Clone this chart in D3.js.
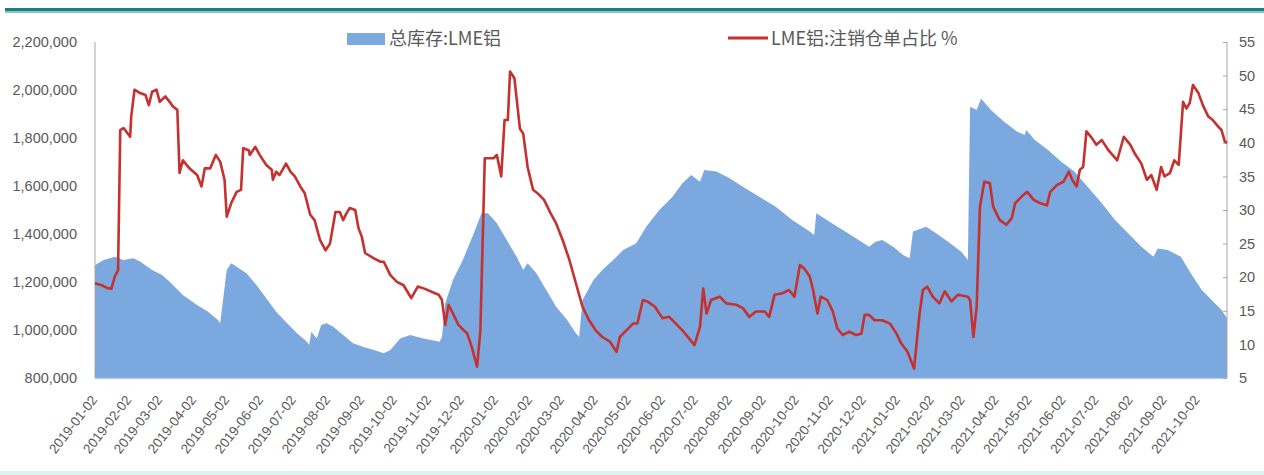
<!DOCTYPE html>
<html>
<head>
<meta charset="utf-8">
<script src="https://cdn.jsdelivr.net/npm/d3@7"></script>
<style>
  html, body { margin: 0; padding: 0; background: #ffffff; }
  svg { display: block; }
</style>
</head>
<body>
<svg id="chart" width="1264" height="475"></svg>
<script>
// LME aluminium: total stocks (tonnes, left axis) and cancelled-warrant share (%, right axis)
const stockDates = [
  "2019-01-02","2019-01-10","2019-01-20","2019-01-28","2019-02-06","2019-02-12","2019-02-23","2019-03-04",
  "2019-03-11","2019-03-23","2019-04-05","2019-04-15","2019-04-24","2019-04-26","2019-05-02","2019-05-06",
  "2019-05-11","2019-05-20","2019-05-29","2019-06-07","2019-06-16","2019-06-26","2019-07-05","2019-07-14",
  "2019-07-16","2019-07-18","2019-07-23","2019-07-27","2019-08-01","2019-08-07","2019-08-16","2019-08-25",
  "2019-09-03","2019-09-13","2019-09-22","2019-09-28","2019-10-07","2019-10-16","2019-10-28","2019-11-12",
  "2019-11-14","2019-11-17","2019-11-24","2019-12-03","2019-12-13","2019-12-20","2019-12-26","2020-01-03",
  "2020-01-12","2020-01-21","2020-01-27","2020-01-31","2020-02-08","2020-02-17","2020-02-26","2020-03-07",
  "2020-03-15","2020-03-18","2020-03-21","2020-03-31","2020-04-08","2020-04-18","2020-04-27","2020-05-09",
  "2020-05-18","2020-05-30","2020-06-11","2020-06-20","2020-06-28","2020-07-06","2020-07-10","2020-07-21",
  "2020-08-02","2020-08-14","2020-08-29","2020-09-13","2020-09-28","2020-10-14","2020-10-18","2020-10-20",
  "2020-11-01","2020-11-13","2020-11-25","2020-12-07","2020-12-13","2020-12-19","2020-12-29","2021-01-07",
  "2021-01-13","2021-01-16","2021-01-28","2021-02-06","2021-02-17","2021-03-01","2021-03-07","2021-03-09",
  "2021-03-15","2021-03-19","2021-03-28","2021-04-09","2021-04-21","2021-04-28","2021-04-29","2021-05-07",
  "2021-05-19","2021-05-31","2021-06-12","2021-06-24","2021-07-07","2021-07-19","2021-07-31","2021-08-12",
  "2021-08-23","2021-08-27","2021-09-05","2021-09-17","2021-09-26","2021-10-06","2021-10-15","2021-10-24",
  "2021-10-29"
];
const stockValues = [
  1271000,1292000,1305000,1292000,1299000,1285000,1250000,1229000,
  1201000,1146000,1104000,1076000,1042000,1028000,1250000,1278000,
  1264000,1236000,1188000,1132000,1076000,1028000,986000,951000,
  938000,993000,965000,1021000,1028000,1014000,979000,945000,
  930000,917000,903000,917000,965000,979000,965000,951000,
  972000,1111000,1208000,1292000,1403000,1486000,1486000,1445000,
  1375000,1305000,1250000,1278000,1236000,1167000,1097000,1042000,
  986000,972000,1125000,1208000,1250000,1292000,1333000,1361000,
  1430000,1500000,1555000,1611000,1646000,1618000,1667000,1660000,
  1632000,1597000,1555000,1514000,1458000,1410000,1396000,1486000,
  1451000,1417000,1382000,1347000,1368000,1375000,1347000,1313000,
  1299000,1410000,1430000,1403000,1368000,1326000,1292000,1930000,
  1917000,1965000,1917000,1868000,1826000,1813000,1833000,1792000,
  1750000,1701000,1660000,1597000,1528000,1458000,1403000,1347000,
  1305000,1340000,1333000,1305000,1236000,1167000,1125000,1083000,
  1049000
];

const ratioDates = [
  "2019-01-02","2019-01-08","2019-01-13","2019-01-17","2019-01-20","2019-01-23","2019-01-25","2019-01-28",
  "2019-02-03","2019-02-04","2019-02-07","2019-02-12","2019-02-17","2019-02-20","2019-02-23","2019-02-27",
  "2019-03-02","2019-03-07","2019-03-11","2019-03-14","2019-03-18","2019-03-20","2019-03-23","2019-03-29",
  "2019-04-05","2019-04-09","2019-04-12","2019-04-17","2019-04-22","2019-04-26","2019-04-30","2019-05-02",
  "2019-05-06","2019-05-11","2019-05-15","2019-05-17","2019-05-22","2019-05-23","2019-05-28","2019-06-01",
  "2019-06-07","2019-06-12","2019-06-13","2019-06-16","2019-06-19","2019-06-25","2019-06-29","2019-07-03",
  "2019-07-08","2019-07-12","2019-07-17","2019-07-21","2019-07-26","2019-07-31","2019-08-04","2019-08-09",
  "2019-08-13","2019-08-16","2019-08-19","2019-08-22","2019-08-27","2019-08-30","2019-09-02","2019-09-05",
  "2019-09-13","2019-09-19","2019-09-22","2019-09-28","2019-10-04","2019-10-10","2019-10-17","2019-10-23",
  "2019-10-29","2019-11-05","2019-11-11","2019-11-14","2019-11-17","2019-11-20","2019-11-24","2019-11-29",
  "2019-12-07","2019-12-11","2019-12-16","2019-12-19","2019-12-23","2019-12-31","2020-01-03","2020-01-07",
  "2020-01-10","2020-01-13","2020-01-15","2020-01-19","2020-01-24","2020-01-27","2020-01-31","2020-02-05",
  "2020-02-09","2020-02-15","2020-02-21","2020-02-26","2020-03-03","2020-03-09","2020-03-15","2020-03-21",
  "2020-03-27","2020-04-02","2020-04-08","2020-04-15","2020-04-21","2020-04-24","2020-04-30","2020-05-06",
  "2020-05-10","2020-05-15","2020-05-19","2020-05-26","2020-05-30","2020-06-02","2020-06-08","2020-06-14",
  "2020-06-20","2020-06-26","2020-07-01","2020-07-06","2020-07-09","2020-07-12","2020-07-16","2020-07-24",
  "2020-07-30","2020-08-08","2020-08-14","2020-08-20","2020-08-26","2020-09-03","2020-09-07","2020-09-12",
  "2020-09-19","2020-09-25","2020-09-30","2020-10-05","2020-10-09","2020-10-14","2020-10-17","2020-10-21",
  "2020-10-24","2020-10-30","2020-11-04","2020-11-08","2020-11-13","2020-11-19","2020-11-25","2020-11-30",
  "2020-12-03","2020-12-07","2020-12-12","2020-12-19","2020-12-26","2021-01-01","2021-01-05","2021-01-11",
  "2021-01-17","2021-01-22","2021-01-25","2021-01-29","2021-02-03","2021-02-09","2021-02-14","2021-02-20",
  "2021-02-26","2021-03-07","2021-03-09","2021-03-12","2021-03-15","2021-03-18","2021-03-22","2021-03-27",
  "2021-03-30","2021-04-05","2021-04-11","2021-04-16","2021-04-19","2021-04-25","2021-04-30","2021-05-06",
  "2021-05-12","2021-05-18","2021-05-21","2021-05-27","2021-06-02","2021-06-07","2021-06-10","2021-06-14",
  "2021-06-17","2021-06-20","2021-06-23","2021-06-28","2021-07-02","2021-07-07","2021-07-13","2021-07-21",
  "2021-07-27","2021-08-02","2021-08-06","2021-08-12","2021-08-17","2021-08-21","2021-08-26","2021-08-30",
  "2021-09-02","2021-09-07","2021-09-11","2021-09-15","2021-09-19","2021-09-22","2021-09-25","2021-09-28",
  "2021-10-03","2021-10-07","2021-10-12","2021-10-16","2021-10-21","2021-10-24","2021-10-27","2021-10-29"
];
const ratioValues = [
  19.1,18.8,18.4,18.3,20.1,21.0,41.9,42.2,
  40.9,43.9,47.9,47.4,47.1,45.6,47.6,47.9,
  46.1,46.9,46.1,45.4,44.9,35.5,37.4,36.2,
  35.2,33.5,36.2,36.2,38.2,37.2,34.5,29.0,
  31.0,32.7,33.0,39.2,38.9,38.2,39.4,38.2,
  36.7,36.0,34.5,35.7,35.2,36.9,35.7,35.0,
  33.5,32.5,29.3,28.5,25.5,24.0,25.0,29.7,
  29.7,28.5,29.5,30.3,30.0,27.3,26.0,23.6,
  22.8,22.3,22.3,20.3,19.3,18.8,16.9,18.6,
  18.3,17.8,17.4,16.6,12.9,15.9,14.6,12.9,
  11.6,9.7,6.7,12.1,37.7,37.7,38.2,35.0,
  43.4,43.4,50.6,49.6,42.1,41.4,36.4,33.0,
  32.5,31.5,29.5,28.0,25.5,22.6,19.1,15.6,
  13.6,12.1,11.1,10.4,8.9,11.1,12.1,13.1,
  13.1,16.6,16.4,15.6,14.6,13.9,14.1,13.1,
  12.1,10.9,9.9,12.6,18.3,14.6,16.6,17.1,
  16.1,15.9,15.4,14.1,14.9,14.9,14.1,17.4,
  17.6,18.1,17.1,21.8,21.3,20.1,18.1,14.6,
  17.1,16.6,14.9,12.4,11.4,11.9,11.4,11.6,
  14.4,14.4,13.6,13.6,13.1,11.6,10.2,8.9,
  6.4,14.6,18.1,18.6,17.1,16.1,17.9,16.4,
  17.4,17.1,16.6,11.1,15.6,30.5,34.2,34.0,
  30.5,28.5,27.8,28.8,31.0,32.0,32.7,31.5,
  31.0,30.7,32.7,33.7,34.2,35.7,34.5,33.5,
  36.0,36.4,41.7,40.7,39.7,40.4,38.9,37.4,
  40.9,39.7,38.4,36.9,34.5,35.2,33.0,36.4,
  35.0,35.5,37.4,36.7,46.1,45.1,45.9,48.6,
  47.4,45.6,43.9,43.4,42.4,41.9,40.2,40.0
];

const monthTicks = [
  "2019-01-02","2019-02-02","2019-03-02","2019-04-02","2019-05-02","2019-06-02","2019-07-02","2019-08-02",
  "2019-09-02","2019-10-02","2019-11-02","2019-12-02","2020-01-02","2020-02-02","2020-03-02","2020-04-02",
  "2020-05-02","2020-06-02","2020-07-02","2020-08-02","2020-09-02","2020-10-02","2020-11-02","2020-12-02",
  "2021-01-02","2021-02-02","2021-03-02","2021-04-02","2021-05-02","2021-06-02","2021-07-02","2021-08-02",
  "2021-09-02","2021-10-02"
];
const stockTicks = [800000, 1000000, 1200000, 1400000, 1600000, 1800000, 2000000, 2200000];
const ratioTicks = [5, 10, 15, 20, 25, 30, 35, 40, 45, 50, 55];
const seriesNames = ["总库存:LME铝", "LME铝:注销仓单占比 %"];
const dateRange = ["2019-01-02", "2021-10-29"];

const parse = d3.utcParse("%Y-%m-%d");
const stock = stockDates.map((d, i) => ({ date: parse(d), value: stockValues[i] }));
const ratio = ratioDates.map((d, i) => ({ date: parse(d), value: ratioValues[i] }));

const plot = { left: 95, right: 1227, top: 42, bottom: 378 };
const svg = d3.select("#chart");

const x = d3.scaleUtc().domain(dateRange.map(parse)).range([plot.left, plot.right]);
const yL = d3.scaleLinear().domain([800000, 2200000]).range([plot.bottom, plot.top]);
const yR = d3.scaleLinear().domain([5, 55]).range([plot.bottom, plot.top]);

const textColor = "#595959";
const numFont = "'Liberation Sans', Arial, sans-serif";
const cjkFont = "'Noto Sans CJK SC', 'Noto Sans', sans-serif";

// page frame bands
svg.append("rect").attr("x", 5).attr("y", 8).attr("width", 1259).attr("height", 3).attr("fill", "#17807f");
svg.append("rect").attr("x", 5).attr("y", 11).attr("width", 1259).attr("height", 2).attr("fill", "#8cc4c4");
svg.append("rect").attr("x", 0).attr("y", 471).attr("width", 1264).attr("height", 4).attr("fill", "#dcf3f6");

// stock area
const area = d3.area()
  .x(d => x(d.date))
  .y0(yL(800000))
  .y1(d => yL(d.value));
svg.append("path").datum(stock)
  .attr("d", area)
  .attr("fill", "#7ba8de");

// axis lines
svg.append("line").attr("x1", plot.left).attr("x2", plot.left)
  .attr("y1", plot.top).attr("y2", plot.bottom).attr("stroke", "#a6a6a6").attr("stroke-width", 1);
svg.append("line").attr("x1", plot.right).attr("x2", plot.right)
  .attr("y1", plot.top).attr("y2", plot.bottom).attr("stroke", "#a6a6a6").attr("stroke-width", 1);
svg.append("line").attr("x1", plot.left).attr("x2", plot.right)
  .attr("y1", plot.bottom).attr("y2", plot.bottom).attr("stroke", "#98b2dc").attr("stroke-width", 1.5);

// left axis labels
const gL = svg.append("g").attr("transform", `translate(${plot.left},0)`)
  .call(d3.axisLeft(yL).tickValues(stockTicks).tickSize(0).tickPadding(18).tickFormat(d3.format(",")));
gL.select(".domain").remove();
gL.selectAll("text").attr("fill", textColor).attr("font-family", numFont).attr("font-size", 14.5);

// right axis with small inside ticks
const gR = svg.append("g").attr("transform", `translate(${plot.right},0)`)
  .call(d3.axisRight(yR).tickValues(ratioTicks).tickSizeInner(-4).tickSizeOuter(0).tickPadding(12));
gR.select(".domain").remove();
gR.selectAll("line").attr("stroke", "#a6a6a6");
gR.selectAll("text").attr("fill", textColor).attr("font-family", numFont).attr("font-size", 14.5);

// rotated month labels
const gX = svg.append("g");
gX.selectAll("text").data(monthTicks).join("text")
  .attr("transform", d => `translate(${x(parse(d)) + 3},${plot.bottom + 22}) rotate(-52)`)
  .attr("text-anchor", "end")
  .attr("fill", textColor)
  .attr("font-family", numFont)
  .attr("font-size", 13.5)
  .text(d => d);

// cancelled-warrant ratio line
const line = d3.line()
  .x(d => x(d.date))
  .y(d => yR(d.value));
svg.append("path").datum(ratio)
  .attr("d", line)
  .attr("fill", "none")
  .attr("stroke", "#c5312f")
  .attr("stroke-width", 2.6)
  .attr("stroke-linejoin", "round");

// legend
const legend = svg.append("g");
legend.append("rect").attr("x", 347).attr("y", 33).attr("width", 38).attr("height", 12).attr("fill", "#7ba8de");
legend.append("text").attr("x", 389).attr("y", 46)
  .attr("fill", textColor).attr("font-family", cjkFont).attr("font-size", 18)
  .attr("dominant-baseline", "middle").attr("y", 40)
  .text(seriesNames[0]);
legend.append("line").attr("x1", 728).attr("x2", 768).attr("y1", 38).attr("y2", 38)
  .attr("stroke", "#c5312f").attr("stroke-width", 3);
legend.append("text").attr("x", 771).attr("y", 40)
  .attr("fill", textColor).attr("font-family", cjkFont).attr("font-size", 18)
  .attr("dominant-baseline", "middle")
  .text(seriesNames[1]);
</script>
</body>
</html>
